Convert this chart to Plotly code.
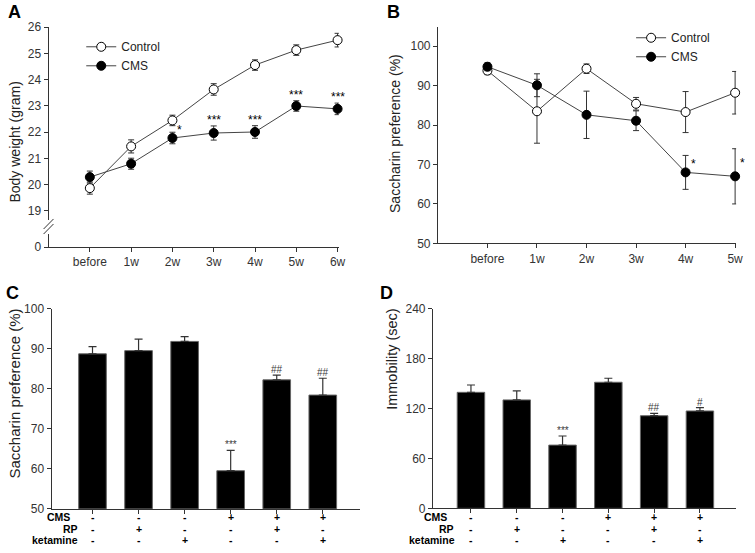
import plotly.graph_objects as go

W, H = 755, 553

# ---------------- data ----------------
weeks_A = ["before", "1w", "2w", "3w", "4w", "5w", "6w"]
ctrl_A = [19.87, 21.46, 22.45, 23.63, 24.56, 25.13, 25.51]
ctrl_A_err = [0.23, 0.25, 0.20, 0.22, 0.20, 0.20, 0.26]
cms_A = [20.29, 20.80, 21.78, 21.97, 22.01, 23.00, 22.89]
cms_A_err = [0.23, 0.21, 0.22, 0.27, 0.24, 0.20, 0.22]
sig_A = ["", "", "*", "***", "***", "***", "***"]
# broken axis: "0" is shown at the bottom of the axis, below the break
yticks_A = [19, 20, 21, 22, 23, 24, 25, 26]
ybreak_zero_pos = 17.623

weeks_B = ["before", "1w", "2w", "3w", "4w", "5w"]
ctrl_B = [93.8, 83.5, 94.3, 85.4, 83.3, 88.2]
ctrl_B_err = [1.0, 8.1, 1.2, 1.6, 5.2, 5.4]
cms_B = [94.8, 90.1, 82.6, 81.1, 68.0, 67.0]
cms_B_err = [1.0, 2.9, 6.0, 2.5, 4.3, 7.0]
sig_B = ["", "", "", "", "*", "*"]

groups = [0, 1, 2, 3, 4, 5]
row_names = ["CMS", "RP", "ketamine"]
cms_row = ["-", "-", "-", "+", "+", "+"]
rp_row = ["-", "+", "-", "-", "+", "-"]
ket_row = ["-", "-", "+", "-", "-", "+"]

sp_C = [88.7, 89.5, 91.8, 59.5, 82.2, 78.4]
sp_C_err = [1.8, 2.9, 1.2, 5.1, 1.2, 4.2]
sig_C = ["", "", "", "***", "##", "##"]

imm_D = [139.4, 130.3, 76.0, 151.5, 111.3, 117.0]
imm_D_err = [8.8, 10.9, 10.9, 4.8, 2.8, 4.0]
sig_D = ["", "", "***", "", "##", "#"]

# ---------------- helpers ----------------
FONT = "Liberation Sans, Arial, sans-serif"
AX = "#333333"


def px(x):
    return x / W


def py(y):
    # vertical placement (the photographed page is slightly taller than the figure)
    fy = (y - 7.8) / 0.9711
    return 1 - fy / H


fig = go.Figure()


def line_trace(x, y, err, name, filled, xa, ya, legend):
    return go.Scatter(
        x=x, y=y, name=name, mode="lines+markers",
        xaxis=xa, yaxis=ya, legend=legend, cliponaxis=False,
        line=dict(color="#444444", width=1),
        marker=dict(size=9, color="black" if filled else "white",
                    line=dict(color="black", width=1)),
        error_y=dict(type="data", array=err, visible=True,
                     color="#333333", thickness=1, width=3),
    )


fig.add_trace(line_trace(weeks_A, ctrl_A, ctrl_A_err, "Control", False, "x", "y", "legend"))
fig.add_trace(line_trace(weeks_A, cms_A, cms_A_err, "CMS", True, "x", "y", "legend"))
fig.add_trace(line_trace(weeks_B, ctrl_B, ctrl_B_err, "Control", False, "x2", "y2", "legend2"))
fig.add_trace(line_trace(weeks_B, cms_B, cms_B_err, "CMS", True, "x2", "y2", "legend2"))


def bar_trace(vals, err, xa, ya):
    return go.Bar(
        x=groups, y=vals, xaxis=xa, yaxis=ya, showlegend=False,
        marker=dict(color="black", line=dict(color="#666666", width=1)),
        error_y=dict(type="data", symmetric=False, array=err,
                     arrayminus=[0] * len(err), visible=True,
                     color="#333333", thickness=1.2, width=4),
    )


fig.add_trace(bar_trace(sp_C, sp_C_err, "x3", "y3"))
fig.add_trace(bar_trace(imm_D, imm_D_err, "x4", "y4"))

ann = []

# significance marks
for w, v, e, s in zip(weeks_A, cms_A, cms_A_err, sig_A):
    if s == "*":
        ann.append(dict(x=w, y=v + e, xref="x", yref="y", text=s, showarrow=False,
                        xanchor="left", yanchor="middle", xshift=3, yshift=2,
                        font=dict(size=12, color="black", family=FONT)))
    elif s:
        ann.append(dict(x=w, y=v + e, xref="x", yref="y", text=s, showarrow=False,
                        yanchor="bottom", yshift=-3,
                        font=dict(size=12, color="black", family=FONT)))
for w, v, e, s in zip(weeks_B, cms_B, cms_B_err, sig_B):
    if s:
        ann.append(dict(x=w, y=v + e * 0.5, xref="x2", yref="y2", text=s, showarrow=False,
                        xanchor="left", yanchor="middle", xshift=3,
                        font=dict(size=12, color="black", family=FONT)))
for g, v, e, s in zip(groups, sp_C, sp_C_err, sig_C):
    if s:
        ann.append(dict(x=g, y=v + e, xref="x3", yref="y3", text=s, showarrow=False,
                        yanchor="bottom", yshift=-2,
                        font=dict(size=10, color="#3a3a3a", family=FONT)))
for g, v, e, s in zip(groups, imm_D, imm_D_err, sig_D):
    if s:
        ann.append(dict(x=g, y=v + e, xref="x4", yref="y4", text=s, showarrow=False,
                        yanchor="bottom", yshift=-2,
                        font=dict(size=10, color="#3a3a3a", family=FONT)))

# condition table below bar charts
row_y = [516, 527.5, 539]
rows = [cms_row, rp_row, ket_row]
for xa, label_right in (("x3", [72, 80, 80]), ("x4", [452, 459, 460])):
    for name, ry, row, lr in zip(row_names, row_y, rows, label_right):
        ann.append(dict(x=px(lr), y=py(ry), xref="paper", yref="paper", text=name,
                        showarrow=False, xanchor="right", yanchor="middle", borderpad=0,
                        font=dict(size=10.5, color="black", family=FONT, weight="bold")))
        for g, sgn in zip(groups, row):
            ann.append(dict(x=g, y=py(ry), xref=xa, yref="paper", text=sgn,
                            showarrow=False, xanchor="center", yanchor="middle", borderpad=0,
                            font=dict(size=10.5, color="black", family=FONT, weight="bold")))

# panel letters
for t, x, y in (("A", 15, 13), ("B", 397, 13), ("C", 13, 293), ("D", 390, 293)):
    ann.append(dict(x=px(x), y=py(y), xref="paper", yref="paper", text=t, showarrow=False,
                    xanchor="center", yanchor="middle",
                    font=dict(size=18, color="black", family=FONT, weight="bold")))

# axis titles
for t, x, y, fs in (("Body weight (gram)", 15, 142, 14), ("Saccharin preference (%)", 398, 134, 14),
                     ("Saccharin preference (%)", 15, 393, 15), ("Immobility (sec)", 396, 358, 14.5)):
    ann.append(dict(x=px(x), y=py(y), xref="paper", yref="paper", text=t, showarrow=False,
                    textangle=-90, xanchor="center", yanchor="middle",
                    font=dict(size=fs, color="#222222", family=FONT)))

# axis break in panel A: gap in the axis line plus two slanted strokes
shapes = [dict(type="rect", xref="paper", yref="paper", layer="above",
               x0=px(46), x1=px(53), y0=py(234), y1=py(220),
               fillcolor="white", line=dict(width=0))]
for dy in (0, 5):
    shapes.append(dict(type="line", xref="paper", yref="paper", layer="above",
                       x0=px(44), y0=py(234 - dy), x1=px(54), y1=py(224 - dy),
                       line=dict(color=AX, width=1)))

tickfont = dict(size=12, color="#333333", family=FONT)
common = dict(showline=True, linecolor=AX, linewidth=1, ticks="outside", ticklen=4,
              tickcolor=AX, tickwidth=1, showgrid=False, zeroline=False,
              tickfont=tickfont, fixedrange=True)

fig.update_layout(
    width=W, height=H, autosize=False,
    margin=dict(l=0, r=0, t=0, b=0),
    paper_bgcolor="white", plot_bgcolor="white",
    font=dict(family=FONT, color="#333333"),
    bargap=0.4,
    annotations=ann, shapes=shapes,
    xaxis=dict(domain=[px(49), px(342)], anchor="y", type="category",
               range=[-1, 6.03], **common),
    yaxis=dict(domain=[py(247), py(28)], anchor="x", range=[ybreak_zero_pos, 26.0],
               tickvals=[ybreak_zero_pos] + yticks_A,
               ticktext=["0"] + [str(v) for v in yticks_A], **common),
    xaxis2=dict(domain=[px(442), px(743)], anchor="y2", type="category",
                range=[-1, 5.02], **common),
    yaxis2=dict(domain=[py(243.3), py(28)], anchor="x2", range=[50, 104.8],
                tickvals=[50, 60, 70, 80, 90, 100], **common),
    xaxis3=dict(domain=[px(52), px(363)], anchor="y3", range=[-0.89, 5.8],
                tickvals=groups, showticklabels=False, **common),
    yaxis3=dict(domain=[py(507.7), py(308.3)], anchor="x3", range=[50, 100],
                tickvals=[50, 60, 70, 80, 90, 100], **common),
    xaxis4=dict(domain=[px(437), px(743)], anchor="y4", range=[-0.83, 5.79],
                tickvals=groups, showticklabels=False, **common),
    yaxis4=dict(domain=[py(507.3), py(308.3)], anchor="x4", range=[0, 240],
                tickvals=[0, 60, 120, 180, 240], **common),
    legend=dict(x=px(82), y=py(33), xanchor="left", yanchor="top",
                bgcolor="rgba(0,0,0,0)", font=dict(size=12, color="#222222", family=FONT),
                tracegroupgap=0),
    legend2=dict(x=px(637), y=py(24), xanchor="left", yanchor="top",
                 bgcolor="rgba(0,0,0,0)", font=dict(size=12, color="#222222", family=FONT),
                 tracegroupgap=0),
)

fig.write_html(
    "out.html",
    config={"displayModeBar": False, "staticPlot": True},
    post_script=(
        "var s=document.createElement('style');"
        "s.textContent='html,body{margin:0!important;padding:0!important;overflow:hidden!important;}';"
        "document.head.appendChild(s);"
    ),
)
